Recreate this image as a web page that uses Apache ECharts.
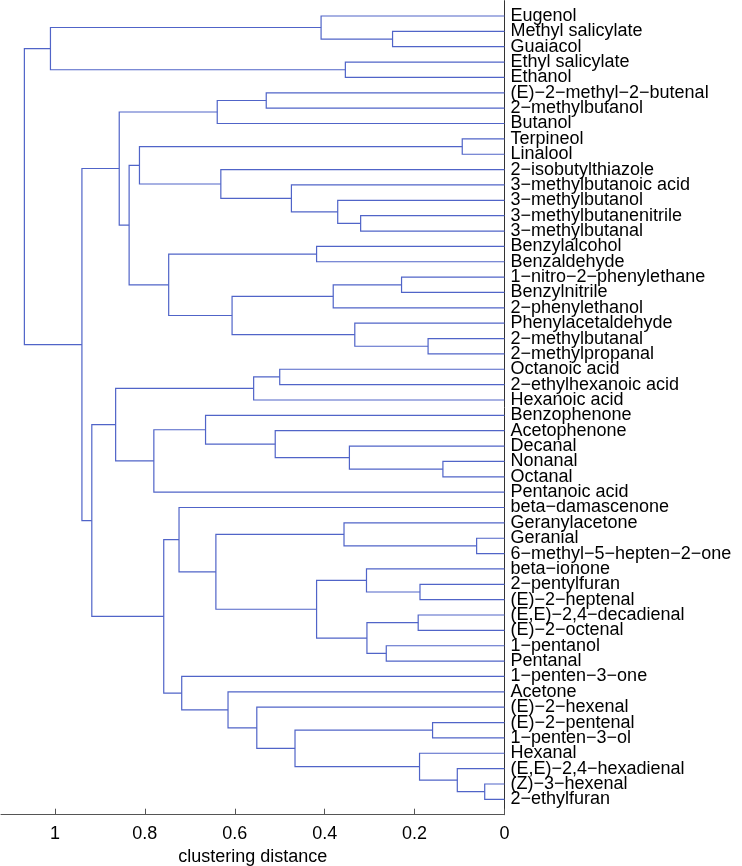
<!DOCTYPE html>
<html>
<head>
<meta charset="utf-8">
<script src="https://cdn.jsdelivr.net/npm/echarts@6/dist/echarts.min.js"></script>
<style>
html,body{margin:0;padding:0;background:#fff;}
#chart{width:742px;height:866px;}
</style>
</head>
<body>
<div id="chart"></div>
<script>
// Leaf labels, top to bottom (leaf index 0..51)
const leafLabels = [
  "Eugenol", "Methyl salicylate", "Guaiacol", "Ethyl salicylate", "Ethanol",
  "(E)\u22122\u2212methyl\u22122\u2212butenal", "2\u2212methylbutanol", "Butanol", "Terpineol", "Linalool",
  "2\u2212isobutylthiazole", "3\u2212methylbutanoic acid", "3\u2212methylbutanol", "3\u2212methylbutanenitrile", "3\u2212methylbutanal",
  "Benzylalcohol", "Benzaldehyde", "1\u2212nitro\u22122\u2212phenylethane", "Benzylnitrile", "2\u2212phenylethanol",
  "Phenylacetaldehyde", "2\u2212methylbutanal", "2\u2212methylpropanal", "Octanoic acid", "2\u2212ethylhexanoic acid",
  "Hexanoic acid", "Benzophenone", "Acetophenone", "Decanal", "Nonanal",
  "Octanal", "Pentanoic acid", "beta\u2212damascenone", "Geranylacetone", "Geranial",
  "6\u2212methyl\u22125\u2212hepten\u22122\u2212one", "beta\u2212ionone", "2\u2212pentylfuran", "(E)\u22122\u2212heptenal", "(E,E)\u22122,4\u2212decadienal",
  "(E)\u22122\u2212octenal", "1\u2212pentanol", "Pentanal", "1\u2212penten\u22123\u2212one", "Acetone",
  "(E)\u22122\u2212hexenal", "(E)\u22122\u2212pentenal", "1\u2212penten\u22123\u2212ol", "Hexanal", "(E,E)\u22122,4\u2212hexadienal",
  "(Z)\u22123\u2212hexenal", "2\u2212ethylfuran"
];

// Linkage: merge k creates cluster id 52+k from mergeLeft[k] and mergeRight[k]
const mergeLeft  = [1, 0, 3, 53, 5, 56, 8, 13, 12, 11, 10, 58, 15, 17, 65, 21, 20, 66, 64, 63,
                    57, 23, 73, 29, 28, 27, 26, 78, 74, 34, 33, 37, 36, 39, 41, 85, 84, 82, 32, 46,
                    50, 49, 48, 91, 45, 44, 43, 90, 80, 72, 55];
const mergeRight = [2, 52, 4, 54, 6, 7, 9, 14, 59, 60, 61, 62, 16, 18, 19, 22, 67, 68, 69, 70,
                    71, 24, 25, 30, 75, 76, 77, 31, 79, 35, 81, 38, 83, 40, 42, 86, 87, 88, 89, 47,
                    51, 92, 93, 94, 95, 96, 97, 98, 99, 100, 101];
const mergeHeight = [0.249, 0.408, 0.354, 1.010, 0.530, 0.639, 0.094, 0.320, 0.371, 0.474,
                     0.631, 0.812, 0.418, 0.229, 0.381, 0.170, 0.333, 0.606, 0.747, 0.835,
                     0.857, 0.500, 0.558, 0.137, 0.345, 0.510, 0.665, 0.780, 0.865, 0.062,
                     0.357, 0.188, 0.307, 0.192, 0.263, 0.306, 0.418, 0.642, 0.724, 0.160,
                     0.044, 0.105, 0.189, 0.466, 0.551, 0.615, 0.718, 0.758, 0.918, 0.940, 1.068];

const xTickValues = [0, 0.2, 0.4, 0.6, 0.8, 1];
const xTickLabels = ["0", "0.2", "0.4", "0.6", "0.8", "1"];
const xAxisName = "clustering distance";

const nLeaves = leafLabels.length;
const nodeY = [], nodeH = [];
for (let i = 0; i < nLeaves; i++) { nodeY.push(i + 1); nodeH.push(0); }
const links = [];
for (let k = 0; k < mergeHeight.length; k++) {
  const a = mergeLeft[k], b = mergeRight[k], h = mergeHeight[k];
  links.push([h, nodeY[a], nodeY[b], nodeH[a], nodeH[b]]);
  nodeY.push((nodeY[a] + nodeY[b]) / 2);
  nodeH.push(h);
}
// label positions: leaves 1..nLeaves, plus empty padding entries at both axis ends
const leafTickValues = [0].concat(leafLabels.map((_, i) => i + 1), [nLeaves + 1]);

const FONT = "'Liberation Sans', Arial, Helvetica, sans-serif";
const FS = 18;
const LINE_COLOR = '#5064c8';

const chart = echarts.init(document.getElementById('chart'), null, {renderer: 'canvas'});
chart.setOption({
  animation: false,
  backgroundColor: '#ffffff',
  grid: {left: 1, right: 237.5, top: 0.64, bottom: 51.3, containLabel: false, outerBoundsMode: 'none'},
  xAxis: {
    type: 'value',
    position: 'bottom',
    inverse: true,
    min: 0,
    max: 1.12,
    name: xAxisName,
    nameLocation: 'middle',
    nameGap: 33,
    nameTextStyle: {color: '#000', fontSize: FS, fontFamily: FONT},
    axisLine: {show: true, onZero: false, lineStyle: {color: '#555', width: 1}},
    axisTick: {show: true, inside: true, length: 6, customValues: xTickValues, lineStyle: {color: '#555'}},
    axisLabel: {
      show: true, margin: 10, color: '#000', fontSize: FS, fontFamily: FONT,
      customValues: xTickValues, showMinLabel: true, showMaxLabel: true,
      formatter: function (v) {
        const idx = xTickValues.findIndex(t => Math.abs(t - v) < 1e-9);
        return idx >= 0 ? xTickLabels[idx] : '';
      }
    },
    splitLine: {show: false}
  },
  yAxis: {
    type: 'value',
    position: 'right',
    inverse: true,
    min: 0,
    max: nLeaves + 1,
    axisLine: {show: true, onZero: false, lineStyle: {color: '#333', width: 1}},
    axisTick: {show: false},
    axisLabel: {
      show: true, margin: 6, color: '#000', fontSize: FS, fontFamily: FONT, lineHeight: 14,
      customValues: leafTickValues, hideOverlap: false,
      formatter: function (v) {
        const i = Math.round(v) - 1;
        return (i >= 0 && i < nLeaves && Math.abs(v - (i + 1)) < 1e-9) ? leafLabels[i] : '';
      }
    },
    splitLine: {show: false}
  },
  series: [{
    type: 'custom',
    coordinateSystem: 'cartesian2d',
    clip: false,
    encode: {x: [0, 3, 4], y: [1, 2]},
    data: links,
    renderItem: function (params, api) {
      const h = api.value(0), ya = api.value(1), yb = api.value(2), ha = api.value(3), hb = api.value(4);
      const pts = [api.coord([ha, ya]), api.coord([h, ya]), api.coord([h, yb]), api.coord([hb, yb])];
      return {
        type: 'polyline',
        shape: {points: pts},
        style: {stroke: LINE_COLOR, lineWidth: 1.2, fill: null}
      };
    }
  }]
});
</script>
</body>
</html>
